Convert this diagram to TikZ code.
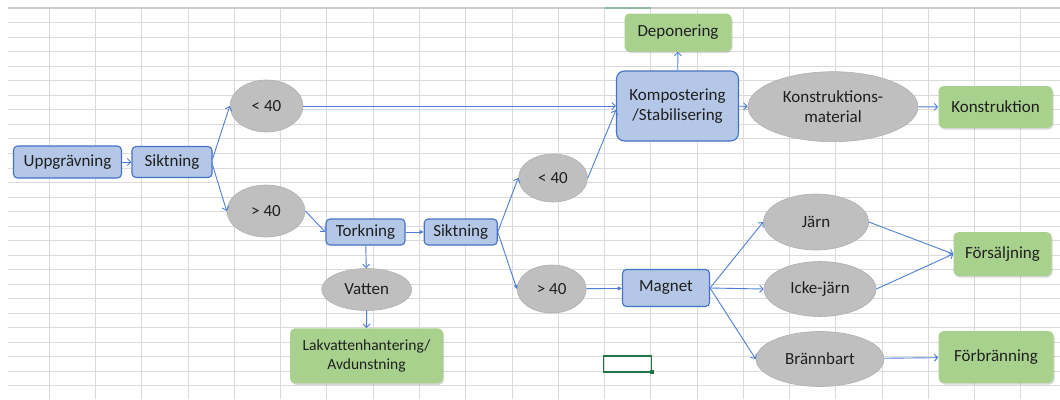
\documentclass[tikz,border=0pt]{standalone}
\usepackage{fontspec}
\setmainfont{Carlito}
\usetikzlibrary{shapes.geometric,arrows.meta,shadows}
\definecolor{gridc}{HTML}{DADADA}
\definecolor{boxblue}{HTML}{B4C7E7}
\definecolor{boxedge}{HTML}{4472C4}
\definecolor{elgray}{HTML}{BFBFBF}
\definecolor{elgrayedge}{HTML}{B0B0B0}
\definecolor{boxgreen}{HTML}{A9D18E}
\definecolor{linkc}{HTML}{4F7FD4}
\definecolor{xlgreen}{HTML}{217346}
\tikzset{
  gridline/.style={draw=gridc, line width=1pt},
  basefont/.style={font=\fontsize{17}{20}\selectfont, text={black!88}},
  bbox/.style={basefont, rectangle, rounded corners=4pt, draw=boxedge, fill=boxblue, line width=1.1pt, inner sep=0pt, align=center},
  gbox/.style={basefont, rectangle, rounded corners=5pt, fill=boxgreen, inner sep=0pt, align=center,
    drop shadow={opacity=0.3, shadow xshift=1pt, shadow yshift=-1.5pt}},
  gell/.style={basefont, ellipse, fill=elgray, draw=elgrayedge, line width=0.6pt, inner sep=0pt, align=center},
  link/.style={draw=linkc, line width=0.9pt, -{Straight Barb[length=3.5pt,width=7pt]}},
  flink/.style={draw=linkc, line width=0.9pt, -{Triangle[length=4pt,width=4pt]}}
}
\begin{document}
\begin{tikzpicture}[x=1pt,y=-1pt]
\useasboundingbox (0,0) rectangle (1060,399);
\fill[white] (0,0) rectangle (1060,399);
% spreadsheet grid
\foreach \k in {0,...,26} \draw[gridline] (8,{8.3+14.52*\k}) -- (1060,{8.3+14.52*\k});
\foreach \k in {0,...,21} \draw[gridline] ({49.3+46.27*\k},8) -- ({49.3+46.27*\k},399);
\draw[draw=gray!40, line width=1.6pt] (8,8) -- (1060,8);
\draw[draw=xlgreen!50, line width=1.6pt] (605,8) -- (651,8);
% selected cell
\draw[draw=xlgreen, line width=1.6pt] (603.5,356) rectangle (651.5,372);
\fill[xlgreen] (649.5,370) rectangle (653.5,374);

% nodes
\node[bbox, minimum width=108pt, minimum height=32pt] (upp) at (67.5,162) {Uppgrävning};
\node[bbox, minimum width=80pt, minimum height=31pt] (s1) at (172,162) {Siktning};
\node[gell, minimum width=73pt, minimum height=52pt] (lt1) at (266.5,106) {< 40};
\node[gell, minimum width=78pt, minimum height=52pt] (gt1) at (266,211) {> 40};
\node[bbox, minimum width=79pt, minimum height=26pt] (tork) at (365.5,232) {Torkning};
\node[bbox, minimum width=73pt, minimum height=26pt] (s2) at (460.7,232) {Siktning};
\node[gell, minimum width=90pt, minimum height=42pt] (vat) at (366.7,289.5) {Vatten};
\node[gbox, minimum width=153pt, minimum height=55pt, font=\fontsize{15.5}{18.3}\selectfont] (lak) at (366.5,355.8) {Lakvattenhantering/\\Avdunstning};
\node[gell, minimum width=69pt, minimum height=48pt] (lt2) at (553,178) {< 40};
\node[gell, minimum width=69pt, minimum height=48pt] (gt2) at (551.7,289) {> 40};
\node[bbox, minimum width=87pt, minimum height=37pt] (mag) at (666,288) {Magnet};
\node[gell, minimum width=105pt, minimum height=56pt] (jarn) at (816,222) {Järn};
\node[gell, minimum width=112pt, minimum height=55pt] (icke) at (820,289) {Icke-järn};
\node[gell, minimum width=128pt, minimum height=55pt] (bran) at (820,359) {Brännbart};
\node[gbox, minimum width=98pt, minimum height=44pt] (fors) at (1002.5,254) {Försäljning};
\node[gbox, minimum width=115pt, minimum height=52pt] (forb) at (996,357) {Förbränning};
\node[gbox, minimum width=107pt, minimum height=38pt] (dep) at (678,32.5) {Deponering};
\node[bbox, rounded corners=8pt, minimum width=122pt, minimum height=70pt] (komp) at (677.5,106) {Kompostering\\/Stabilisering};
\node[gell, minimum width=170pt, minimum height=70pt] (km) at (833,106.7) {Konstruktions-\\material};
\node[gbox, minimum width=114pt, minimum height=42pt] (kon) at (995.5,107) {Konstruktion};

% connectors
\draw[link] (upp) -- (s1);
\draw[link] ([yshift=3pt]s1.east) -- (lt1.west);
\draw[link] ([yshift=-3pt]s1.east) -- (gt1.west);
\draw[link] (gt1.east) -- (tork.west);
\draw[link] (lt1.east) -- (komp.west);
\draw[flink] (tork) -- (s2);
\draw[link] (tork) -- (vat);
\draw[link] (vat) -- (lak);
\draw[link] (s2.east) -- (lt2.west);
\draw[flink] (s2.east) -- (gt2.west);
\draw[link] (lt2.east) -- ([yshift=-4pt]komp.west);
\draw[link] (komp) -- (dep);
\draw[link] (komp) -- (km);
\draw[link] (km) -- (kon);
\draw[flink] (gt2) -- (mag);
\draw[link] (mag.east) -- (jarn.west);
\draw[link] (mag.east) -- (icke.west);
\draw[link] (mag.east) -- (bran.west);
\draw[link] (jarn.east) -- (fors.west);
\draw[link] (icke.east) -- (fors.west);
\draw[link] (bran) -- (forb);
\end{tikzpicture}
\end{document}
